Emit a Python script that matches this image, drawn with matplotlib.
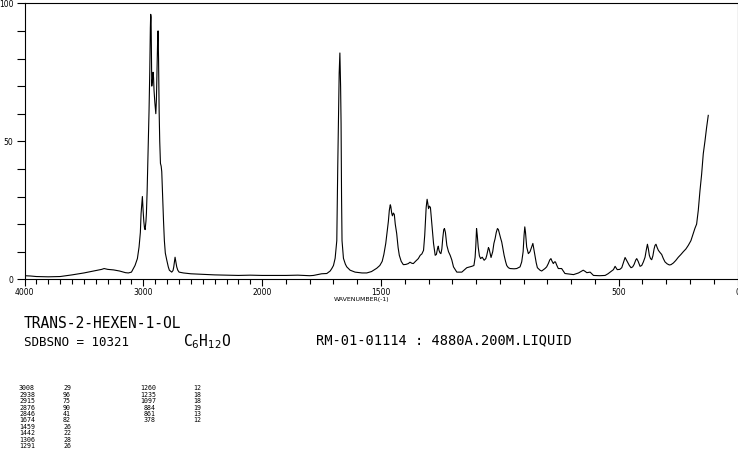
import numpy as np
import matplotlib
matplotlib.use("Agg")
import matplotlib.pyplot as plt
from matplotlib.ticker import FixedLocator

# spectrum (wavenumber, intensity)
wavenumber = [
    4000, 3950, 3900, 3800, 3700, 3650, 3600, 3500, 3420, 3350, 3330, 3300,
    3250, 3200, 3150, 3126, 3100, 3070, 3050, 3036, 3025, 3019, 3012, 3008,
    3002, 2996, 2990, 2985, 2978, 2974, 2968, 2963, 2957, 2952, 2946, 2941,
    2938, 2935, 2931, 2929, 2924, 2918, 2914, 2910, 2903, 2895, 2890, 2884,
    2880, 2876, 2872, 2867, 2862, 2856, 2850, 2845, 2840, 2836, 2830, 2823,
    2815, 2803, 2790, 2781, 2761, 2750, 2744, 2738, 2733, 2727, 2719, 2710,
    2699, 2663, 2600, 2500, 2400, 2300, 2200, 2100, 2000, 1900, 1850, 1800,
    1784, 1750, 1728, 1714, 1707, 1700, 1693, 1686, 1682, 1676, 1673, 1670,
    1668, 1666, 1664, 1658, 1650, 1644, 1630, 1609, 1580, 1560, 1540, 1518,
    1505, 1495, 1488, 1480, 1476, 1469, 1465, 1461, 1459, 1455, 1452, 1448,
    1444, 1440, 1434, 1428, 1423, 1415, 1406, 1395, 1385, 1378, 1370, 1364,
    1355, 1343, 1335, 1328, 1321, 1316, 1313, 1310, 1306, 1303, 1300, 1296,
    1292, 1289, 1286, 1279, 1272, 1267, 1262, 1259, 1256, 1252, 1248, 1244,
    1240, 1236, 1233, 1229, 1223, 1216, 1209, 1202, 1195, 1181, 1160, 1139,
    1118, 1109, 1104, 1101, 1098, 1095, 1091, 1086, 1081, 1074, 1066, 1059,
    1055, 1048, 1045, 1041, 1037, 1030, 1025, 1020, 1015, 1010, 1006, 1002,
    997, 992, 987, 982, 976, 971, 964, 957, 940, 929, 915, 908,
    902, 898, 895, 892, 887, 880, 873, 867, 861, 857, 852, 847,
    842, 831, 824, 810, 803, 796, 790, 785, 780, 775, 770, 766,
    760, 754, 740, 726, 700, 690, 669, 655, 649, 640, 634, 620,
    606, 580, 557, 545, 536, 522, 515, 506, 495, 487, 478, 473,
    463, 455, 448, 441, 435, 428, 424, 418, 410, 403, 396, 389,
    384, 379, 375, 371, 366, 361, 356, 351, 347, 343, 338, 333,
    326, 319, 312, 305, 296, 287, 280, 270, 260, 249, 238, 228,
    217, 207, 196, 186, 179, 172, 165, 158, 151, 144, 137, 130, 123,
]
intensity = [
    1.3, 1.2, 1.0, 0.9, 1.0, 1.3, 1.6, 2.3, 3.0, 3.6, 3.9, 3.6,
    3.4, 3.0, 2.4, 2.3, 2.6, 5.0, 7.5, 11.7, 17, 23.8, 28, 30,
    25, 21, 18.5, 18, 21, 24, 32, 40.7, 50, 61, 75, 91,
    96, 95, 80, 70, 72, 75, 73, 68.5, 64, 60, 65, 78,
    86, 90, 80, 61, 50, 42, 41, 39, 33, 28.6, 21, 14,
    9.5, 7, 4.5, 3.3, 2.6, 3.2, 4.5, 6.5, 8, 6.5, 4.5, 3.3,
    2.6, 2.3, 2.0, 1.8, 1.6, 1.5, 1.4, 1.5, 1.4, 1.4, 1.5, 1.3,
    1.4, 2.0, 2.1, 3.0, 3.9, 5.0, 7.6, 14, 40.7, 74.6, 82, 70,
    56.5, 30, 14, 7.6, 5.5, 4.5, 3.3, 2.6, 2.3, 2.3, 2.8, 4.0,
    5.0, 6.5, 9, 13, 16, 21, 25, 27, 26.5, 24, 23, 24,
    23.5, 20, 16.6, 11.5, 8.7, 6.5, 5.3, 5.4, 5.7, 6.2, 5.8, 5.7,
    6.5, 7.5, 8.7, 9.2, 10.5, 16, 21, 26, 29, 27.5, 25.6, 26.5,
    26, 23, 20, 13, 8.7, 9, 11.2, 12, 10.5, 9.6, 9.3, 11,
    15, 18, 18.4, 17, 12.3, 10, 8.7, 7, 4.5, 2.6, 2.6, 4.2,
    4.7, 5, 8, 12.3, 18.4, 16, 11.7, 8.5, 7.5, 8, 6.9, 7.5,
    8.7, 11.5, 11, 9.5, 7.9, 10, 13, 14.7, 17, 18.4, 18, 16.6,
    15, 13.5, 11, 8.7, 6.5, 5, 4.2, 3.9, 3.8, 3.9, 4.5, 6.3,
    10, 16, 19, 17, 11.7, 9.3, 10, 11.5, 13, 11, 8.5, 6,
    4.2, 3.3, 3.0, 3.9, 4.5, 5.7, 7, 7.5, 6.5, 5.7, 6.3, 6.3,
    5, 3.9, 3.9, 2.1, 1.8, 1.7, 2.3, 3.0, 3.3, 2.8, 2.4, 2.6,
    1.4, 1.3, 1.4, 2.0, 2.6, 3.5, 4.7, 3.5, 3.6, 4.2, 6.5, 7.9,
    6.3, 5, 4.2, 4.5, 5.4, 7, 7.5, 6.5, 4.7, 5, 6.3, 8,
    10.5, 12.7, 11, 8.7, 7.5, 7.1, 8.5, 11, 12.3, 12.7, 11.5, 10.5,
    9.7, 9, 7.5, 6.3, 5.6, 5.2, 5.3, 5.9, 6.8, 8, 9, 10,
    11, 12.3, 14, 16.6, 18.5, 20, 25, 32, 38, 45.5, 50, 55, 59.4,
]

# peak table
peak_wn_1 = ["3008", "2938", "2915", "2876", "2846", "1674", "1459", "1442", "1306", "1291"]
peak_int_1 = ["29", "96", "75", "90", "41", "82", "26", "22", "28", "26"]
peak_wn_2 = ["1260", "1235", "1097", "884", "861", "378"]
peak_int_2 = ["12", "18", "18", "19", "13", "12"]

major_ticks = [4000, 3000, 2000, 1500, 500, 0]
minor_ticks = list(range(0, 4001, 100))


def fwd(w):
    w = np.asarray(w, dtype=float)
    return np.where(w <= 2000, w, 2000 + (w - 2000) / 2.0)


def inv(u):
    u = np.asarray(u, dtype=float)
    return np.where(u <= 2000, u, 2000 + 2.0 * (u - 2000))


plt.rcParams['font.family'] = ['DejaVu Sans']

fig = plt.figure(figsize=(7.38, 4.57), dpi=100)
ax = fig.add_axes([24.5 / 738, 1 - 279.3 / 457, 713 / 738, 276 / 457])

ax.plot(wavenumber, intensity, color='black', linewidth=0.8)

ax.set_xscale('function', functions=(fwd, inv))
ax.set_xlim(4000, 0)
ax.set_ylim(0, 100)

ax.xaxis.set_major_locator(FixedLocator(major_ticks))
ax.xaxis.set_minor_locator(FixedLocator(minor_ticks))
ax.set_xticklabels([str(t) for t in major_ticks])
ax.yaxis.set_major_locator(FixedLocator([0, 50, 100]))
ax.yaxis.set_minor_locator(FixedLocator(list(range(0, 101, 10))))

ax.tick_params(axis='x', which='major', direction='out', length=5, width=0.8,
               labelsize=5.5, pad=1.5)
ax.tick_params(axis='x', which='minor', direction='out', length=3.3, width=0.8)
ax.tick_params(axis='y', which='both', direction='out', length=5.5, width=0.8,
               labelsize=5.5, pad=2.5)
for s in ax.spines.values():
    s.set_linewidth(0.8)

fig.text(362 / 738, 1 - 300 / 457, 'WAVENUMBER(-1)', fontsize=4.5,
         ha='center', va='center')

mono = 'DejaVu Sans Mono'
fig.text(24 / 738, 1 - 324 / 457, 'TRANS-2-HEXEN-1-OL', family=mono,
         fontsize=10.5, ha='left', va='center')
fig.text(24 / 738, 1 - 342 / 457, 'SDBSNO = 10321', family=mono,
         fontsize=9, ha='left', va='center')
fig.text(183 / 738, 1 - 342 / 457, r'C$_6$H$_{12}$O', family=mono,
         fontsize=10.5, ha='left', va='center')
fig.text(316 / 738, 1 - 340 / 457, 'RM-01-01114 : 4880A.200M.LIQUID', family=mono,
         fontsize=9.9, ha='left', va='center')

row_y0 = 388.3
row_dy = 6.4
for i in range(len(peak_wn_1)):
    y = 1 - (row_y0 + i * row_dy) / 457
    fig.text(35 / 738, y, peak_wn_1[i], family=mono, fontsize=4.8, ha='right', va='center')
    fig.text(63 / 738, y, peak_int_1[i], family=mono, fontsize=4.8, ha='left', va='center')
for i in range(len(peak_wn_2)):
    y = 1 - (row_y0 + i * row_dy) / 457
    fig.text(156 / 738, y, peak_wn_2[i], family=mono, fontsize=4.8, ha='right', va='center')
    fig.text(193 / 738, y, peak_int_2[i], family=mono, fontsize=4.8, ha='left', va='center')

fig.savefig('out.png', dpi=100)
